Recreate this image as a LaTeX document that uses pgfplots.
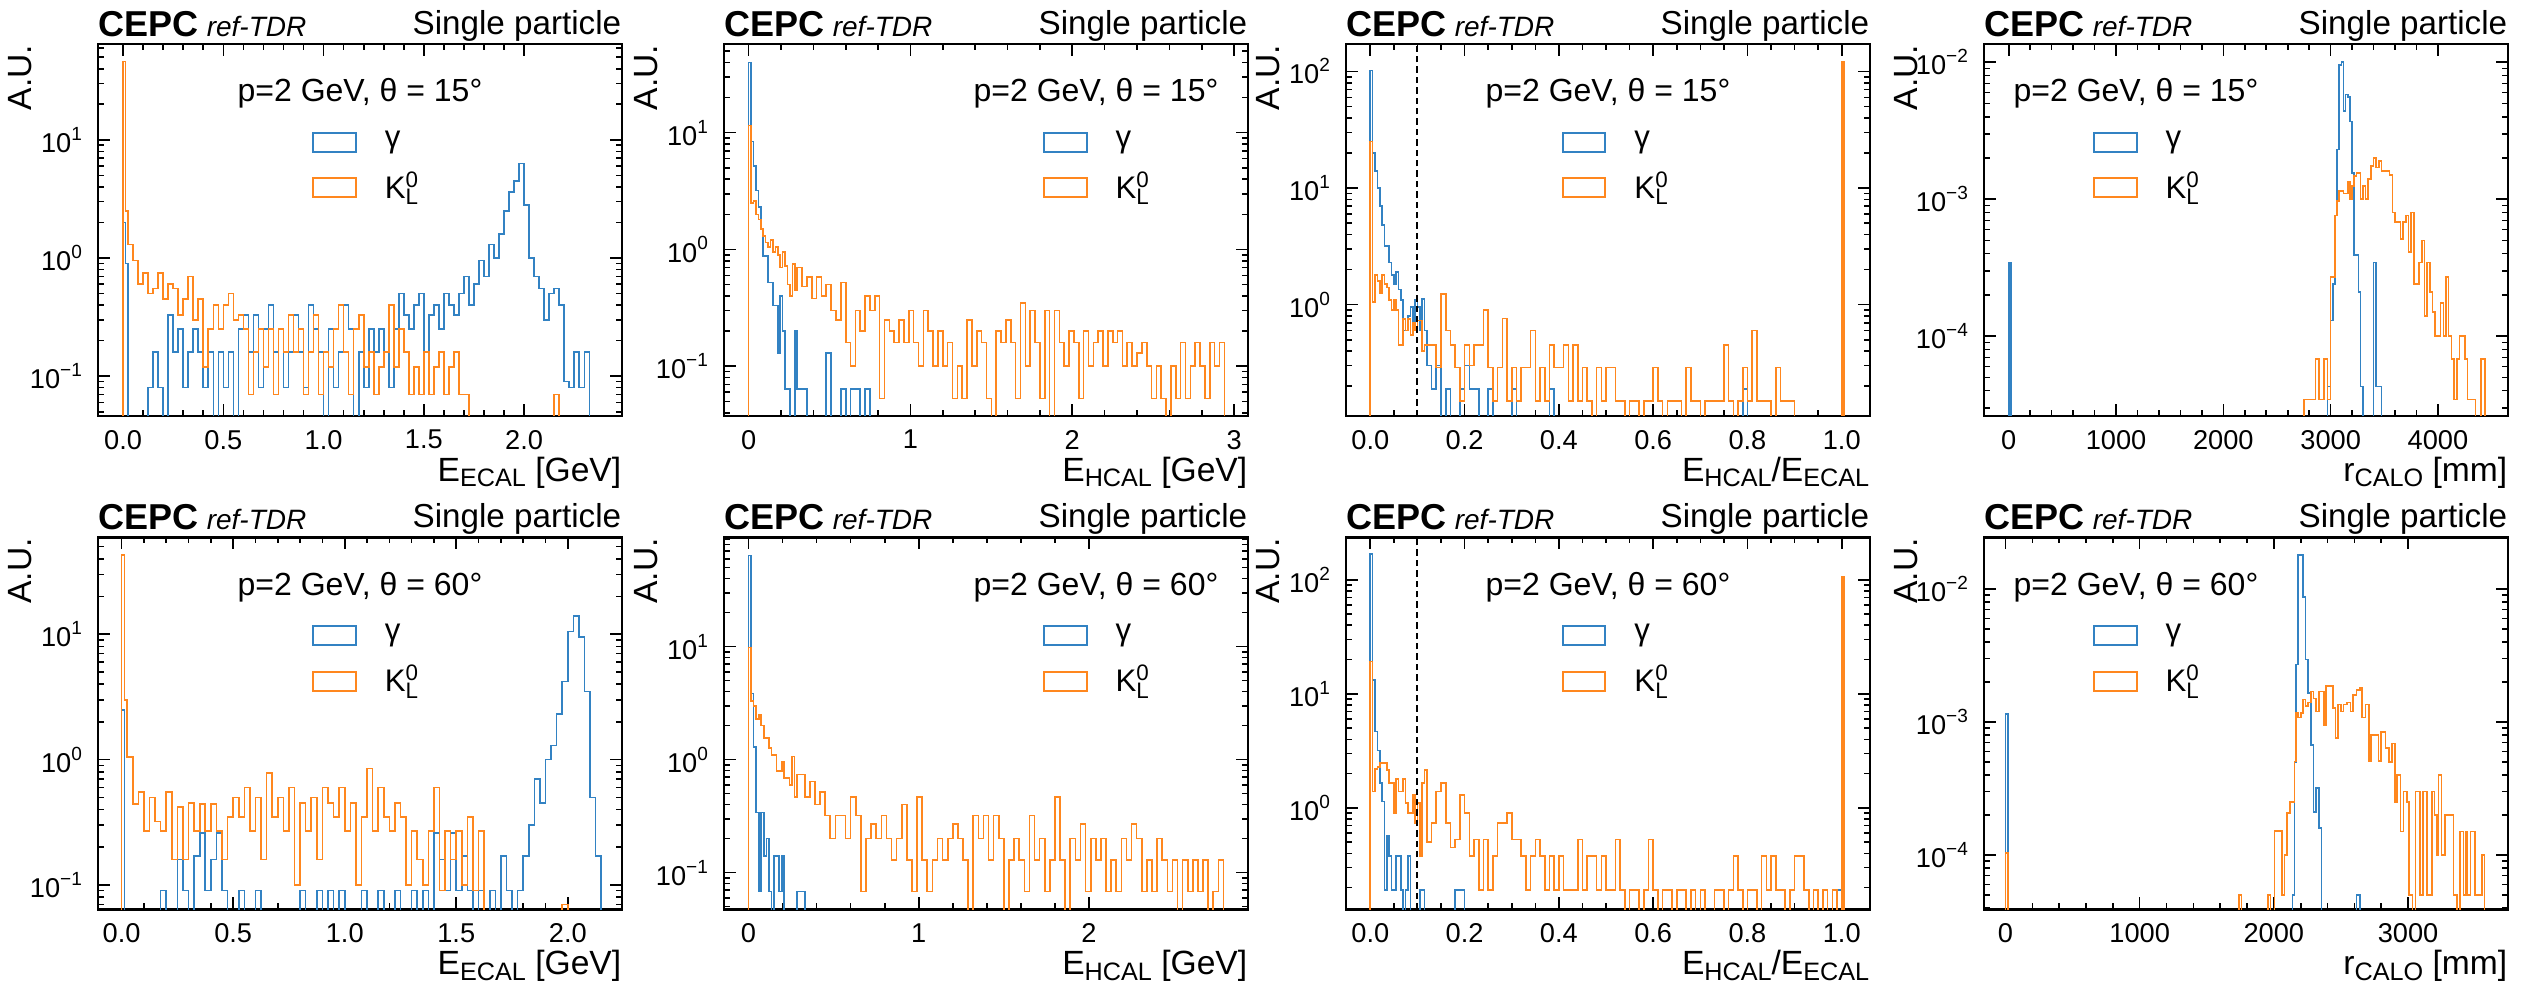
\documentclass[border=0pt]{standalone}
\usepackage{fontspec}
\setmainfont{Liberation Sans}
\usepackage{pgfplots}
\usepackage{pgfplotstable}
\pgfplotsset{compat=1.18}

\definecolor{hblue}{RGB}{50,130,195}
\definecolor{horange}{RGB}{255,135,30}

\newcommand\tickfont{\fontsize{6.8}{8}\selectfont}
\newcommand\labfont{\fontsize{8.4}{10}\selectfont}
\newcommand\spfont{\fontsize{8.3}{10}\selectfont}
\newcommand\legfont{\fontsize{7.8}{9}\selectfont}
\newcommand\sub[1]{\raisebox{-1.3pt}{\fontsize{6.3}{7}\selectfont #1}}
\newcommand\KL{K\rlap{\raisebox{2.8pt}{\fontsize{5.6}{6}\selectfont 0}}\raisebox{-1.6pt}{\fontsize{5.6}{6}\selectfont L}}

% common look of all eight panels
\pgfplotsset{
  scale only axis, width=131pt, height=93pt,
  tick align=inside, major tick length=3pt, minor tick length=1.5pt,
  axis line style={line width=0.6pt},
  every tick/.style={black, line width=0.4pt},
  tick label style={font=\tickfont},
  xticklabel style={/pgf/number format/assume math mode=true},
  yticklabel={\pgfmathtruncatemacro{\ex}{round(\tick/ln(10))}10\textsuperscript{\ifnum\ex<0 −\number-\ex\else\ex\fi}},
  ylabel={A.U.},
  every axis y label/.style={at={(rel axis cs:-0.126,1)}, rotate=90, anchor=base east, inner sep=0pt, font=\labfont},
  every axis x label/.style={at={(rel axis cs:1,-0.176)}, anchor=base east, inner sep=0pt, font=\labfont},
  legend image code/.code={\draw[#1, line width=0.5pt] (0pt,-2.4pt) rectangle (10.7pt,2.4pt);},
  legend cell align=left,
  legend style={draw=none, fill=none, anchor=north west, font=\legfont,
    inner sep=0pt, row sep=0.5pt,
    /tikz/every odd column/.append style={column sep=5pt}},
  clip mode=individual,
}
\tikzset{stepline/.style={const plot, line width=0.4pt}}

% header and beam label of one panel: #1 angle, #2 rel. x, #3 anchor
\newcommand\cepclabels[3]{%
  \node[anchor=base west, inner sep=0pt] at (rel axis cs:0,1.02)
    {\fontsize{9}{10}\selectfont\bfseries CEPC\hspace{2pt}\fontsize{7}{8}\selectfont\mdseries\itshape ref-TDR};
  \node[anchor=base east, inner sep=0pt] at (rel axis cs:1,1.026) {\spfont Single particle};
  \node[anchor=#3, inner sep=0pt] at (rel axis cs:#2,0.845) {\fontsize{8}{10}\selectfont p=2 GeV, θ = #1°};
}

% E_ECAL, theta = 15 deg
\pgfplotstableread{
x g k
-0.0125 1e-9 1e-9
0 2.0 46
0.0125 0.9 2.5
0.025 1e-9 1.3
0.05 1e-9 0.95
0.075 1e-9 0.6
0.1 1e-9 0.75
0.125 0.08 0.5
0.15 0.16 0.55
0.175 0.08 0.75
0.2 1e-9 0.45
0.225 0.33 0.6
0.25 0.16 0.55
0.275 0.25 0.33
0.3 0.08 0.45
0.325 0.16 0.7
0.35 0.25 0.3
0.375 0.16 0.45
0.4 0.08 0.12
0.425 0.16 0.25
0.45 1e-9 0.4
0.475 0.16 0.25
0.5 0.08 0.4
0.525 0.16 0.5
0.55 1e-9 0.3
0.575 0.25 0.33
0.6 0.33 0.25
0.625 0.16 0.07
0.65 0.33 0.16
0.675 0.08 0.25
0.7 0.25 0.12
0.725 0.4 0.25
0.75 0.16 0.07
0.775 0.25 0.25
0.8 0.08 0.16
0.825 0.16 0.33
0.85 0.33 0.16
0.875 0.16 0.25
0.9 0.08 0.07
0.925 0.4 0.16
0.95 0.25 0.33
0.975 0.16 0.07
1.0 1e-9 0.16
1.025 0.25 0.12
1.05 0.08 0.25
1.075 0.16 0.4
1.1 0.4 0.16
1.125 0.25 0.07
1.15 1e-9 0.25
1.175 0.16 0.33
1.2 0.08 0.12
1.225 0.25 0.16
1.25 0.16 0.07
1.275 0.25 0.12
1.3 0.16 0.16
1.325 0.08 0.4
1.35 0.25 0.12
1.375 0.5 0.25
1.4 0.33 0.16
1.425 0.25 0.07
1.45 0.4 0.12
1.475 0.5 0.07
1.5 0.16 0.16
1.525 0.33 0.07
1.55 0.4 0.12
1.575 0.25 0.16
1.6 0.5 0.07
1.625 0.4 0.12
1.65 0.33 0.16
1.675 0.5 0.07
1.7 0.7 0.07
1.725 0.4 1e-9
1.75 0.6 1e-9
1.775 0.95 1e-9
1.8 0.7 1e-9
1.825 1.3 1e-9
1.85 1.0 1e-9
1.875 1.6 1e-9
1.9 2.5 1e-9
1.925 3.6 1e-9
1.95 4.5 1e-9
1.975 6.3 1e-9
2.0 2.8 1e-9
2.025 1.0 1e-9
2.05 0.7 1e-9
2.075 0.55 1e-9
2.1 0.3 1e-9
2.125 0.5 1e-9
2.15 0.55 0.07
2.175 0.4 1e-9
2.2 0.09 1e-9
2.225 0.08 1e-9
2.25 0.16 1e-9
2.275 0.08 1e-9
2.3 0.16 1e-9
2.325 1e-9 1e-9
}\tEa

% E_ECAL, theta = 60 deg
\pgfplotstableread{
x g k
-0.0125 1e-9 1e-9
0 2.5 43
0.0125 1e-9 3.0
0.025 1e-9 1.05
0.05 1e-9 0.44
0.075 1e-9 0.55
0.1 1e-9 0.27
0.125 1e-9 0.5
0.15 1e-9 0.32
0.175 0.09 0.27
0.2 1e-9 0.55
0.225 1e-9 0.16
0.25 0.16 0.42
0.275 0.09 0.16
0.3 1e-9 0.45
0.325 0.17 0.27
0.35 0.26 0.44
0.375 0.09 0.27
0.4 0.16 0.44
0.425 0.26 0.27
0.45 0.09 0.16
0.475 1e-9 0.35
0.5 1e-9 0.5
0.525 0.09 0.35
0.55 1e-9 0.6
0.575 1e-9 0.27
0.6 0.09 0.5
0.625 1e-9 0.16
0.65 1e-9 0.78
0.675 1e-9 0.35
0.7 1e-9 0.5
0.725 1e-9 0.27
0.75 1e-9 0.6
0.775 1e-9 0.1
0.8 0.09 0.45
0.825 1e-9 0.27
0.85 1e-9 0.5
0.875 0.09 0.16
0.9 1e-9 0.6
0.925 0.09 0.45
0.95 1e-9 0.35
0.975 0.09 0.6
1.0 1e-9 0.27
1.025 1e-9 0.45
1.05 1e-9 0.1
1.075 0.09 0.35
1.1 1e-9 0.85
1.125 1e-9 0.27
1.15 0.09 0.6
1.175 1e-9 0.35
1.2 1e-9 0.27
1.225 0.09 0.45
1.25 1e-9 0.35
1.275 1e-9 0.1
1.3 0.09 0.27
1.325 1e-9 0.16
1.35 0.09 0.1
1.375 1e-9 0.27
1.4 0.26 0.6
1.425 0.16 0.09
1.45 0.09 0.27
1.475 0.26 0.16
1.5 0.09 0.27
1.525 0.17 0.1
1.55 0.09 0.35
1.575 1e-9 0.09
1.6 0.09 0.27
1.625 1e-9 1e-9
1.65 0.09 1e-9
1.675 1e-9 1e-9
1.7 0.17 1e-9
1.725 0.09 1e-9
1.75 1e-9 1e-9
1.775 0.09 1e-9
1.8 0.17 1e-9
1.825 0.3 1e-9
1.85 0.7 1e-9
1.875 0.45 1e-9
1.9 1.0 1e-9
1.925 1.3 1e-9
1.95 2.3 1e-9
1.975 4.2 0.07
2.0 10.5 1e-9
2.025 14 1e-9
2.05 9.5 1e-9
2.075 3.5 1e-9
2.1 0.5 1e-9
2.125 0.17 1e-9
2.15 1e-9 1e-9
}\tEb

% E_HCAL, theta = 15 deg
\pgfplotstableread{
x g k
-0.015 1e-9 1e-9
0 40 11.5
0.015 8.4 2.5
0.03 5.2 2.6
0.045 3.2 2.0
0.06 2.3 1.8
0.075 1.5 1.5
0.09 0.88 1.3
0.105 0.88 1.15
0.12 0.52 1.05
0.135 0.52 1.2
0.15 0.33 0.95
0.165 0.33 1.05
0.18 0.13 0.9
0.195 0.4 0.7
0.21 0.2 0.95
0.225 0.064 0.72
0.24 0.064 0.5
0.255 1e-9 0.4
0.27 1e-9 0.75
0.285 0.2 0.45
0.30 0.064 0.7
0.33 0.064 0.48
0.36 1e-9 0.58
0.39 1e-9 0.38
0.42 1e-9 0.58
0.45 1e-9 0.4
0.48 0.13 0.5
0.51 1e-9 0.3
0.54 1e-9 0.25
0.57 0.064 0.52
0.60 1e-9 0.16
0.63 0.064 0.1
0.66 0.064 0.3
0.69 1e-9 0.2
0.72 0.064 0.4
0.75 1e-9 0.3
0.78 1e-9 0.4
0.81 1e-9 0.053
0.84 1e-9 0.25
0.87 1e-9 0.2
0.90 1e-9 0.16
0.93 1e-9 0.25
0.96 1e-9 0.16
0.99 1e-9 0.3
1.02 1e-9 0.16
1.05 1e-9 0.1
1.08 1e-9 0.3
1.11 1e-9 0.2
1.14 1e-9 0.1
1.17 1e-9 0.2
1.20 1e-9 0.1
1.23 1e-9 0.16
1.26 1e-9 0.053
1.29 1e-9 0.1
1.32 1e-9 0.053
1.35 1e-9 0.25
1.38 1e-9 0.1
1.41 1e-9 0.2
1.44 1e-9 0.16
1.47 1e-9 0.053
1.50 1e-9 1e-9
1.53 1e-9 0.2
1.56 1e-9 0.16
1.59 1e-9 0.25
1.62 1e-9 0.16
1.65 1e-9 0.053
1.68 1e-9 0.35
1.71 1e-9 0.1
1.74 1e-9 0.3
1.77 1e-9 0.16
1.80 1e-9 0.053
1.83 1e-9 0.3
1.86 1e-9 1e-9
1.89 1e-9 0.3
1.92 1e-9 0.16
1.95 1e-9 0.1
1.98 1e-9 0.2
2.01 1e-9 0.16
2.04 1e-9 0.053
2.07 1e-9 0.2
2.10 1e-9 0.1
2.13 1e-9 0.16
2.16 1e-9 0.2
2.19 1e-9 0.1
2.22 1e-9 0.2
2.25 1e-9 0.16
2.28 1e-9 0.2
2.31 1e-9 0.1
2.34 1e-9 0.16
2.37 1e-9 0.1
2.40 1e-9 0.13
2.43 1e-9 0.16
2.46 1e-9 0.1
2.49 1e-9 0.053
2.52 1e-9 0.1
2.55 1e-9 0.053
2.58 1e-9 1e-9
2.61 1e-9 0.1
2.64 1e-9 0.053
2.67 1e-9 0.16
2.70 1e-9 0.053
2.73 1e-9 0.1
2.76 1e-9 0.16
2.79 1e-9 0.1
2.82 1e-9 0.053
2.85 1e-9 0.16
2.88 1e-9 0.1
2.91 1e-9 0.16
2.94 1e-9 1e-9
}\tHa

% E_HCAL, theta = 60 deg
\pgfplotstableread{
x g k
-0.015 1e-9 1e-9
0 64 9.8
0.015 3.85 3.3
0.03 1.3 3.0
0.045 0.34 2.3
0.06 0.068 2.5
0.075 0.34 2.0
0.09 0.14 1.56
0.105 0.2 1.56
0.12 0.068 1.27
0.135 1e-9 1.1
0.15 0.14 1.1
0.165 0.14 0.79
0.18 0.068 0.79
0.195 0.14 0.96
0.21 1e-9 0.69
0.225 1e-9 0.69
0.24 1e-9 0.6
0.255 1e-9 1.07
0.27 1e-9 0.47
0.285 0.068 0.74
0.30 0.068 0.74
0.33 1e-9 0.47
0.36 1e-9 0.64
0.39 1e-9 0.4
0.42 1e-9 0.52
0.45 1e-9 0.32
0.48 1e-9 0.2
0.51 1e-9 0.32
0.54 1e-9 0.32
0.57 1e-9 0.2
0.60 1e-9 0.47
0.63 1e-9 0.32
0.66 1e-9 0.068
0.69 1e-9 0.2
0.72 1e-9 0.27
0.75 1e-9 0.2
0.78 1e-9 0.32
0.81 1e-9 0.2
0.84 1e-9 0.13
0.87 1e-9 0.2
0.90 1e-9 0.4
0.93 1e-9 0.13
0.96 1e-9 0.068
0.99 1e-9 0.47
1.02 1e-9 0.13
1.05 1e-9 0.068
1.08 1e-9 0.13
1.11 1e-9 0.2
1.14 1e-9 0.13
1.17 1e-9 0.2
1.20 1e-9 0.27
1.23 1e-9 0.2
1.26 1e-9 0.13
1.29 1e-9 1e-9
1.32 1e-9 0.32
1.35 1e-9 0.2
1.38 1e-9 0.32
1.41 1e-9 0.13
1.44 1e-9 0.32
1.47 1e-9 0.2
1.50 1e-9 1e-9
1.53 1e-9 0.13
1.56 1e-9 0.2
1.59 1e-9 0.13
1.62 1e-9 0.068
1.65 1e-9 0.32
1.68 1e-9 0.13
1.71 1e-9 0.2
1.74 1e-9 0.068
1.77 1e-9 0.13
1.80 1e-9 0.47
1.83 1e-9 0.13
1.86 1e-9 1e-9
1.89 1e-9 0.2
1.92 1e-9 0.13
1.95 1e-9 0.27
1.98 1e-9 0.068
2.01 1e-9 0.2
2.04 1e-9 0.13
2.07 1e-9 0.2
2.10 1e-9 0.068
2.13 1e-9 0.13
2.16 1e-9 0.068
2.19 1e-9 0.2
2.22 1e-9 0.13
2.25 1e-9 0.27
2.28 1e-9 0.2
2.31 1e-9 0.068
2.34 1e-9 0.13
2.37 1e-9 0.068
2.40 1e-9 0.2
2.43 1e-9 0.13
2.46 1e-9 0.068
2.49 1e-9 0.13
2.52 1e-9 1e-9
2.55 1e-9 0.13
2.58 1e-9 0.068
2.61 1e-9 0.13
2.64 1e-9 0.068
2.67 1e-9 0.13
2.70 1e-9 1e-9
2.73 1e-9 0.068
2.76 1e-9 0.13
2.79 1e-9 1e-9
}\tHb

% E_HCAL/E_ECAL, theta = 15 deg
\pgfplotstableread{
x g k
-0.005 1e-9 1e-9
0 102 25
0.005 20 1.05
0.01 14 1.8
0.015 10 1.6
0.02 7 1.25
0.025 4.8 1.8
0.03 3.2 1.5
0.035 3.2 1.4
0.04 2.3 1.1
0.045 1.8 0.9
0.05 1.5 1.1
0.055 1.9 0.9
0.06 1.35 0.45
0.065 1.1 0.45
0.07 0.6 0.75
0.075 0.6 0.6
0.08 0.8 0.75
0.085 0.95 0.55
0.09 0.6 0.7
0.095 1.1 0.6
0.1 0.96 0.73
0.105 0.6 0.73
0.11 1.12 0.4
0.115 0.6 0.45
0.12 0.3 0.45
0.13 0.19 0.45
0.14 0.3 0.29
0.15 1e-9 1.24
0.16 0.19 0.6
0.17 1e-9 0.45
0.18 1e-9 0.29
0.19 0.19 0.15
0.20 0.3 0.45
0.21 0.19 0.3
0.22 0.19 0.45
0.23 1e-9 0.45
0.24 1e-9 0.9
0.25 0.19 0.29
0.26 1e-9 0.15
0.27 1e-9 0.29
0.28 1e-9 0.76
0.29 1e-9 0.15
0.30 0.19 0.29
0.31 1e-9 0.15
0.32 1e-9 0.29
0.33 1e-9 0.29
0.34 1e-9 0.6
0.35 1e-9 0.15
0.36 1e-9 0.29
0.37 1e-9 0.15
0.38 0.19 0.45
0.39 1e-9 0.29
0.40 1e-9 0.29
0.41 1e-9 0.45
0.42 1e-9 0.15
0.43 1e-9 0.45
0.44 1e-9 0.15
0.45 1e-9 0.29
0.46 1e-9 0.15
0.47 1e-9 1e-9
0.48 1e-9 0.29
0.49 1e-9 0.15
0.50 1e-9 0.29
0.51 1e-9 0.29
0.52 1e-9 0.15
0.54 1e-9 1e-9
0.55 1e-9 0.15
0.57 1e-9 1e-9
0.58 1e-9 0.15
0.60 1e-9 0.29
0.61 1e-9 0.15
0.62 1e-9 1e-9
0.63 1e-9 0.15
0.66 1e-9 1e-9
0.67 1e-9 0.29
0.68 1e-9 0.15
0.70 1e-9 1e-9
0.71 1e-9 0.15
0.75 1e-9 0.45
0.76 1e-9 0.15
0.77 1e-9 1e-9
0.78 1e-9 0.15
0.79 0.19 0.29
0.80 1e-9 0.15
0.81 1e-9 0.6
0.82 1e-9 0.15
0.85 1e-9 1e-9
0.86 1e-9 0.29
0.87 1e-9 0.15
0.90 1e-9 1e-9
1.0 4.5 122
1.005 1e-9 1e-9
}\tRa

% E_HCAL/E_ECAL, theta = 60 deg
\pgfplotstableread{
x g k
-0.005 1e-9 1e-9
0 169 19.2
0.005 13.2 1.4
0.01 4.7 2.2
0.015 3.2 2.3
0.02 1.65 2.47
0.025 1.14 2.47
0.03 0.19 2.47
0.035 0.57 2.16
0.04 0.38 1.65
0.045 0.19 1.65
0.05 0.19 0.9
0.055 0.38 1.8
0.06 0.38 1.4
0.065 0.19 1.4
0.07 1e-9 1.8
0.075 0.19 1.1
0.08 0.38 0.9
0.085 1e-9 0.9
0.09 1e-9 1.3
0.095 1e-9 0.74
0.1 1e-9 1.1
0.105 0.19 0.38
0.11 0.19 1.65
0.115 1e-9 2.16
0.12 1e-9 0.5
0.13 1e-9 0.74
0.14 1e-9 1.4
0.15 1e-9 1.65
0.16 1e-9 0.74
0.17 1e-9 0.45
0.18 0.19 0.53
0.19 0.19 1.3
0.20 1e-9 0.9
0.21 1e-9 0.38
0.22 1e-9 0.53
0.23 1e-9 0.19
0.24 1e-9 0.53
0.25 1e-9 0.19
0.26 1e-9 0.38
0.27 1e-9 0.74
0.28 1e-9 0.74
0.29 1e-9 0.9
0.30 1e-9 0.53
0.31 1e-9 0.53
0.32 1e-9 0.38
0.33 1e-9 0.19
0.34 1e-9 0.38
0.35 1e-9 0.53
0.36 1e-9 0.38
0.37 1e-9 0.19
0.38 1e-9 0.38
0.39 1e-9 0.19
0.40 1e-9 0.38
0.41 1e-9 0.19
0.44 1e-9 0.53
0.45 1e-9 0.19
0.46 1e-9 0.38
0.48 1e-9 0.19
0.49 1e-9 0.38
0.50 1e-9 0.19
0.52 1e-9 0.53
0.53 1e-9 0.19
0.54 1e-9 1e-9
0.55 1e-9 0.19
0.57 1e-9 1e-9
0.58 1e-9 0.19
0.59 1e-9 0.53
0.60 1e-9 0.19
0.61 1e-9 1e-9
0.62 1e-9 0.19
0.64 1e-9 1e-9
0.65 1e-9 0.19
0.67 1e-9 1e-9
0.68 1e-9 0.19
0.69 1e-9 1e-9
0.70 1e-9 0.19
0.71 1e-9 1e-9
0.73 1e-9 0.19
0.75 1e-9 1e-9
0.76 1e-9 0.19
0.77 1e-9 0.38
0.78 1e-9 0.19
0.79 1e-9 1e-9
0.80 1e-9 0.19
0.82 1e-9 1e-9
0.83 1e-9 0.38
0.84 1e-9 0.19
0.85 1e-9 0.38
0.86 1e-9 0.19
0.88 1e-9 1e-9
0.89 1e-9 0.19
0.90 1e-9 0.38
0.92 1e-9 0.19
0.93 1e-9 1e-9
0.94 1e-9 0.19
0.95 1e-9 1e-9
0.96 1e-9 0.19
0.97 1e-9 1e-9
0.98 0.19 0.19
0.99 0.19 1e-9
1.0 4.2 107
1.005 1e-9 1e-9
}\tRb

% r_CALO, theta = 15 deg
\pgfplotstableread{
x g k
-20 1e-9 1e-9
0 3.45e-4 1e-9
20 1e-9 1e-9
2750 1e-9 3.45e-5
2860 1e-9 6.8e-5
2890 1e-9 3.45e-5
2940 1e-9 6.8e-5
2970 4.3e-5 3.45e-5
3000 1.3e-4 2.7e-4
3020 2.4e-4 2.7e-4
3040 7.6e-4 7.6e-4
3060 2.3e-3 9.7e-4
3080 9.6e-3 1.15e-3
3100 1.0e-2 1.15e-3
3120 4.4e-3 1.1e-3
3140 5.8e-3 1.1e-3
3160 5.6e-3 1.35e-3
3180 3.7e-3 1.0e-3
3200 1.56e-3 1.25e-3
3220 3.9e-4 1.48e-3
3240 3.9e-4 1.56e-3
3260 2.1e-4 1.56e-3
3280 4.3e-5 1.0e-3
3300 1e-9 1.25e-3
3325 1e-9 1.0e-3
3350 1e-9 1.4e-3
3375 1e-9 1.75e-3
3400 3.45e-4 2.0e-3
3425 4.3e-5 1.7e-3
3450 4.3e-5 1.9e-3
3475 1e-9 1.6e-3
3550 1e-9 1.5e-3
3575 1e-9 8.0e-4
3600 1e-9 6.8e-4
3650 1e-9 5.1e-4
3675 1e-9 6.8e-4
3700 1e-9 7.6e-4
3725 1e-9 4.1e-4
3750 1e-9 8.0e-4
3775 1e-9 2.4e-4
3825 1e-9 3.45e-4
3850 1e-9 5.0e-4
3875 1e-9 1.4e-4
3900 1e-9 3.45e-4
3925 1e-9 2.1e-4
3950 1e-9 1.5e-4
3975 1e-9 1.0e-4
4025 1e-9 1.75e-4
4050 1e-9 1.0e-4
4075 1e-9 2.7e-4
4100 1e-9 1.0e-4
4125 1e-9 6.8e-5
4150 1e-9 3.45e-5
4175 1e-9 6.8e-5
4200 1e-9 1.0e-4
4250 1e-9 6.8e-5
4275 1e-9 3.45e-5
4350 1e-9 1e-9
4400 1e-9 6.8e-5
4440 1e-9 1e-9
}\tCa

% r_CALO, theta = 60 deg
\pgfplotstableread{
x g k
-20 1e-9 1e-9
0 1.15e-3 1.03e-4
20 1e-9 1e-9
1740 1e-9 5e-5
1760 1e-9 1e-9
1955 1e-9 5e-5
1975 1e-9 1e-9
2005 1e-9 1.52e-4
2060 1e-9 5e-5
2080 1e-9 1.0e-4
2100 1e-9 2.07e-4
2120 1e-9 2.5e-4
2140 5e-5 2.5e-4
2155 5e-4 5.06e-4
2165 2.7e-3 1.17e-3
2180 1.8e-2 1.08e-3
2200 1.8e-2 1.17e-3
2215 8.7e-3 1.48e-3
2235 2.96e-3 1.32e-3
2255 1.65e-3 1.4e-3
2275 6.7e-4 1.7e-3
2295 2.1e-4 1.5e-3
2315 3.2e-4 1.2e-3
2335 1.6e-4 1.7e-3
2355 1e-9 1.7e-3
2375 1e-9 9.5e-4
2390 1e-9 1.86e-3
2440 1e-9 1.28e-3
2460 1e-9 7.6e-4
2480 1e-9 1.35e-3
2500 1e-9 1.2e-3
2520 1e-9 1.35e-3
2545 1e-9 1.4e-3
2570 1e-9 1.2e-3
2590 1e-9 1.6e-3
2615 5e-5 1.75e-3
2640 1e-9 1.8e-3
2657 1e-9 1.08e-3
2682 1e-9 1.35e-3
2707 1e-9 5.1e-4
2724 1e-9 8e-4
2781 1e-9 5.1e-4
2798 1e-9 8.4e-4
2831 1e-9 6.4e-4
2856 1e-9 5.0e-4
2881 1e-9 6.9e-4
2901 1e-9 2.5e-4
2918 1e-9 4.0e-4
2943 1e-9 1.5e-4
2967 1e-9 3.0e-4
2992 1e-9 2.5e-4
3009 1e-9 5e-5
3034 1e-9 1e-9
3054 1e-9 3.0e-4
3090 1e-9 5e-5
3110 1e-9 3.0e-4
3141 1e-9 5e-5
3178 1e-9 3.0e-4
3198 1e-9 2.0e-4
3215 1e-9 1.0e-4
3228 1e-9 4.0e-4
3248 1e-9 1.0e-4
3277 1e-9 2.0e-4
3339 1e-9 5e-5
3364 1e-9 1e-9
3389 1e-9 1.5e-4
3414 1e-9 5e-5
3427 1e-9 1.5e-4
3439 1e-9 5e-5
3464 1e-9 1.5e-4
3501 1e-9 5e-5
3550 1e-9 1.0e-4
3570 1e-9 1e-9
}\tCb

\begin{document}
\begin{tikzpicture}

% ---------- top row (theta = 15) ----------
\begin{axis}[ymode=log, at={(24.5pt,141.75pt)}, anchor=south west,
  xmin=-0.125, xmax=2.488, ymin=0.046, ymax=64.8,
  xtick={0,0.5,1,1.5,2}, minor x tick num=4,
  xticklabel style={/pgf/number format/fixed, /pgf/number format/fixed zerofill, /pgf/number format/precision=1},
  xlabel={E\sub{ECAL} [GeV]},
  legend style={at={(0.407,0.79)}}]
\addplot[hblue, stepline] table[x=x, y=g] {\tEa}; \addlegendentry{γ}
\addplot[horange, stepline] table[x=x, y=k] {\tEa}; \addlegendentry{\KL}
\cepclabels{15}{0.5}{base}
\end{axis}

\begin{axis}[ymode=log, at={(181pt,141.75pt)}, anchor=south west,
  xmin=-0.152, xmax=3.086, ymin=0.0375, ymax=57.5,
  xtick={0,1,2,3}, minor x tick num=4,
  xlabel={E\sub{HCAL} [GeV]},
  legend style={at={(0.607,0.79)}}]
\addplot[hblue, stepline] table[x=x, y=g] {\tHa}; \addlegendentry{γ}
\addplot[horange, stepline] table[x=x, y=k] {\tHa}; \addlegendentry{\KL}
\cepclabels{15}{0.945}{base east}
\end{axis}

\begin{axis}[ymode=log, at={(336.5pt,141.75pt)}, anchor=south west,
  xmin=-0.0515, xmax=1.06, ymin=0.111, ymax=172,
  xtick={0,0.2,0.4,0.6,0.8,1.0}, minor x tick num=3,
  xticklabel style={/pgf/number format/fixed, /pgf/number format/fixed zerofill, /pgf/number format/precision=1},
  xlabel={E\sub{HCAL}/E\sub{ECAL}},
  legend style={at={(0.41,0.79)}}]
\addplot[hblue, stepline] table[x=x, y=g] {\tRa}; \addlegendentry{γ}
\addplot[horange, stepline] table[x=x, y=k] {\tRa}; \addlegendentry{\KL}
\addplot[black, dash pattern=on 1.6pt off 1pt, line width=0.5pt, forget plot] coordinates {(0.1,0.111) (0.1,172)};
\cepclabels{15}{0.5}{base}
\end{axis}

\begin{axis}[ymode=log, at={(496pt,141.75pt)}, anchor=south west,
  xmin=-230, xmax=4653, ymin=2.61e-5, ymax=0.0136,
  xtick={0,1000,2000,3000,4000}, minor x tick num=4,
  xticklabel style={/pgf/number format/1000 sep={}},
  xlabel={r\sub{CALO} [mm]},
  legend style={at={(0.206,0.79)}}]
\addplot[hblue, stepline] table[x=x, y=g] {\tCa}; \addlegendentry{γ}
\addplot[horange, stepline] table[x=x, y=k] {\tCa}; \addlegendentry{\KL}
\cepclabels{15}{0.055}{base west}
\end{axis}

% ---------- bottom row (theta = 60) ----------
\begin{axis}[ymode=log, at={(24.5pt,18.4pt)}, anchor=south west,
  xmin=-0.106, xmax=2.243, ymin=0.0638, ymax=59.3,
  xtick={0,0.5,1,1.5,2}, minor x tick num=4,
  xticklabel style={/pgf/number format/fixed, /pgf/number format/fixed zerofill, /pgf/number format/precision=1},
  xlabel={E\sub{ECAL} [GeV]},
  legend style={at={(0.407,0.79)}}]
\addplot[hblue, stepline] table[x=x, y=g] {\tEb}; \addlegendentry{γ}
\addplot[horange, stepline] table[x=x, y=k] {\tEb}; \addlegendentry{\KL}
\cepclabels{60}{0.5}{base}
\end{axis}

\begin{axis}[ymode=log, at={(181pt,18.4pt)}, anchor=south west,
  xmin=-0.144, xmax=2.934, ymin=0.0473, ymax=92.7,
  xtick={0,1,2}, minor x tick num=4,
  xlabel={E\sub{HCAL} [GeV]},
  legend style={at={(0.607,0.79)}}]
\addplot[hblue, stepline] table[x=x, y=g] {\tHb}; \addlegendentry{γ}
\addplot[horange, stepline] table[x=x, y=k] {\tHb}; \addlegendentry{\KL}
\cepclabels{60}{0.945}{base east}
\end{axis}

\begin{axis}[ymode=log, at={(336.5pt,18.4pt)}, anchor=south west,
  xmin=-0.0515, xmax=1.06, ymin=0.129, ymax=236,
  xtick={0,0.2,0.4,0.6,0.8,1.0}, minor x tick num=3,
  xticklabel style={/pgf/number format/fixed, /pgf/number format/fixed zerofill, /pgf/number format/precision=1},
  xlabel={E\sub{HCAL}/E\sub{ECAL}},
  legend style={at={(0.41,0.79)}}]
\addplot[hblue, stepline] table[x=x, y=g] {\tRb}; \addlegendentry{γ}
\addplot[horange, stepline] table[x=x, y=k] {\tRb}; \addlegendentry{\KL}
\addplot[black, dash pattern=on 1.6pt off 1pt, line width=0.5pt, forget plot] coordinates {(0.1,0.129) (0.1,236)};
\cepclabels{60}{0.5}{base}
\end{axis}

\begin{axis}[ymode=log, at={(496pt,18.4pt)}, anchor=south west,
  xmin=-160, xmax=3745, ymin=3.89e-5, ymax=0.0245,
  xtick={0,1000,2000,3000}, minor x tick num=4,
  xticklabel style={/pgf/number format/1000 sep={}},
  xlabel={r\sub{CALO} [mm]},
  legend style={at={(0.206,0.79)}}]
\addplot[hblue, stepline] table[x=x, y=g] {\tCb}; \addlegendentry{γ}
\addplot[horange, stepline] table[x=x, y=k] {\tCb}; \addlegendentry{\KL}
\cepclabels{60}{0.055}{base west}
\end{axis}

\pgfresetboundingbox
\useasboundingbox (0,0) rectangle (631.5pt,245.75pt);
\end{tikzpicture}
\end{document}
